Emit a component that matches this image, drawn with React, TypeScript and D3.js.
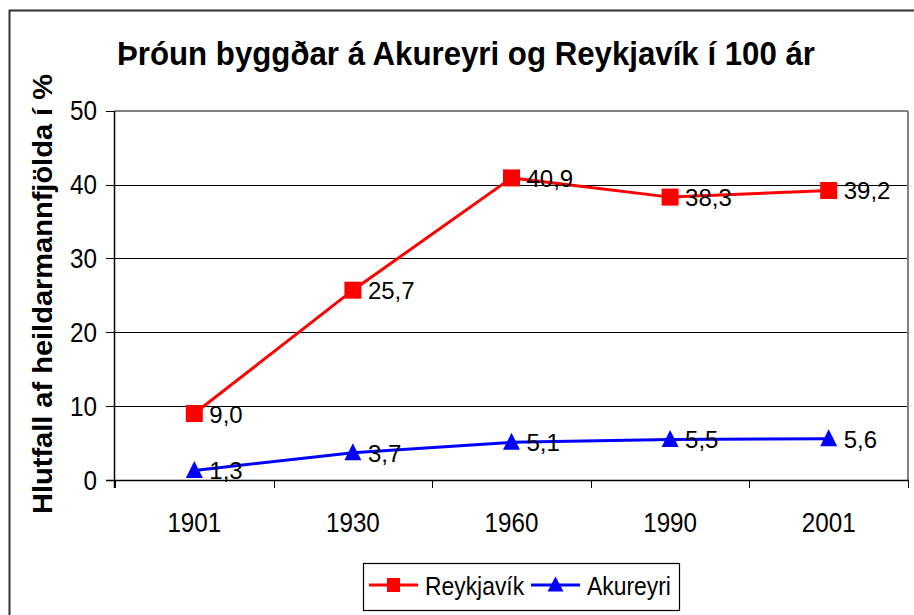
import React from "react";
import * as d3 from "d3";

const categories = ["1901", "1930", "1960", "1990", "2001"];
const reykjavik = [9.0, 25.7, 40.9, 38.3, 39.2];
const akureyri = [1.3, 3.7, 5.1, 5.5, 5.6];
const yTicks = [0, 10, 20, 30, 40, 50];
const seriesNames = ["Reykjavík", "Akureyri"];
const title = "Þróun byggðar á Akureyri og Reykjavík í 100 ár";
const yTitle = "Hlutfall af heildarmannfjölda í %";

const W = 914;
const H = 615;
const plot = { left: 115, right: 908, top: 110.7, bottom: 480 };
const FONT = "'Liberation Sans', Arial, Helvetica, sans-serif";
const fmt = (v: number) => v.toFixed(1).replace(".", ",");

function Tri({ cx, cy, w, h, fill }: { cx: number; cy: number; w: number; h: number; fill: string }) {
  const p = d3.path();
  p.moveTo(cx, cy - h / 2);
  p.lineTo(cx + w / 2, cy + h / 2);
  p.lineTo(cx - w / 2, cy + h / 2);
  p.closePath();
  return <path d={p.toString()} fill={fill} />;
}

function STxt({ x, y, sx, size, anchor, children, weight }: any) {
  return (
    <g transform={`translate(${x},${y}) scale(${sx},1)`}>
      <text x={0} y={0} fontSize={size} fontFamily={FONT} textAnchor={anchor || "start"} fontWeight={weight || "normal"} fill="#000">
        {children}
      </text>
    </g>
  );
}

export default function App() {
  const x = d3.scaleBand<string>().domain(categories).range([plot.left, plot.right]);
  const y = d3.scaleLinear().domain([0, 50]).range([plot.bottom, plot.top]);
  const cx = (c: string) => (x(c) as number) + x.bandwidth() / 2;
  const line = d3
    .line<number>()
    .x((_, i) => cx(categories[i]))
    .y((d) => y(d));
  const boundaries = categories.map((c) => x(c) as number).concat([plot.right]);
  const red = "#FF0000";
  const blue = "#0000FF";

  return (
    <svg width={W} height={H} style={{ position: "absolute", left: 0, top: 0, background: "#fff" }}>
      <rect x={0} y={0} width={W} height={H} fill="#fff" />
      {/* outer chart border */}
      <rect x={9.5} y={10.5} width={1000} height={1000} fill="none" stroke="#333" strokeWidth={2} />

      {/* title */}
      <text
        x={117}
        y={65}
        fontSize={34}
        fontWeight="bold"
        fontFamily={FONT}
        textLength={698}
        lengthAdjust="spacingAndGlyphs"
      >
        {title}
      </text>

      {/* gridlines */}
      {yTicks
        .filter((t) => t > 0 && t < 50)
        .map((t) => (
          <line key={t} x1={plot.left} x2={plot.right} y1={Math.round(y(t)) + 0.5} y2={Math.round(y(t)) + 0.5} stroke="#000" strokeWidth={1} />
        ))}
      {/* plot border (top, right) */}
      <line x1={plot.left} x2={plot.right} y1={111} y2={111} stroke="#808080" strokeWidth={2} />
      <line x1={plot.right} x2={plot.right} y1={111} y2={plot.bottom} stroke="#808080" strokeWidth={2} />

      {/* y axis */}
      <line x1={114.5} x2={114.5} y1={plot.top} y2={488} stroke="#000" strokeWidth={1.5} />
      {yTicks.map((t) => (
        <g key={t}>
          <line x1={106} x2={115} y1={Math.round(y(t)) + 0.5} y2={Math.round(y(t)) + 0.5} stroke="#000" strokeWidth={1} />
          <STxt x={97} y={y(t) + 9.5} sx={0.9} size={27} anchor="end">
            {t}
          </STxt>
        </g>
      ))}

      {/* x axis */}
      <line x1={106} x2={plot.right} y1={480.5} y2={480.5} stroke="#000" strokeWidth={1.5} />
      {boundaries.map((b, i) => (
        <line key={i} x1={Math.round(b) + 0.5} x2={Math.round(b) + 0.5} y1={480} y2={488} stroke="#000" strokeWidth={1} />
      ))}
      {categories.map((c) => (
        <STxt key={c} x={cx(c)} y={532} sx={0.88} size={27.5} anchor="middle">
          {c}
        </STxt>
      ))}

      {/* y axis title */}
      <text
        transform={`translate(52,294) rotate(-90)`}
        fontSize={28}
        fontWeight="bold"
        fontFamily={FONT}
        textAnchor="middle"
        textLength={440}
        lengthAdjust="spacingAndGlyphs"
      >
        {yTitle}
      </text>

      {/* series lines */}
      <path d={line(reykjavik) || ""} fill="none" stroke={red} strokeWidth={3} />
      <path d={line(akureyri) || ""} fill="none" stroke={blue} strokeWidth={3} />

      {/* markers */}
      {reykjavik.map((v, i) => (
        <rect key={"r" + i} x={cx(categories[i]) - 8.5} y={y(v) - 8.5} width={17} height={17} fill={red} />
      ))}
      {akureyri.map((v, i) => (
        <Tri key={"a" + i} cx={cx(categories[i])} cy={y(v) - 1} w={17} h={17} fill={blue} />
      ))}

      {/* data labels */}
      {reykjavik.map((v, i) => (
        <text key={"rl" + i} x={cx(categories[i]) + 15} y={y(v) + 9} fontSize={24} fontFamily={FONT}>
          {fmt(v)}
        </text>
      ))}
      {akureyri.map((v, i) => (
        <text key={"al" + i} x={cx(categories[i]) + 15} y={y(v) + 9} fontSize={24} fontFamily={FONT}>
          {fmt(v)}
        </text>
      ))}

      {/* legend */}
      <rect x={363.5} y={563.5} width={316} height={47} fill="#fff" stroke="#000" strokeWidth={1.2} />
      <line x1={369} x2={418} y1={585} y2={585} stroke={red} strokeWidth={3} />
      <rect x={387} y={578} width={13} height={14} fill={red} />
      <STxt x={425} y={595} sx={0.88} size={26}>
        {seriesNames[0]}
      </STxt>
      <line x1={531} x2={580} y1={585} y2={585} stroke={blue} strokeWidth={3} />
      <Tri cx={555.5} cy={584} w={16} h={15} fill={blue} />
      <STxt x={587} y={595} sx={0.88} size={26}>
        {seriesNames[1]}
      </STxt>
    </svg>
  );
}
